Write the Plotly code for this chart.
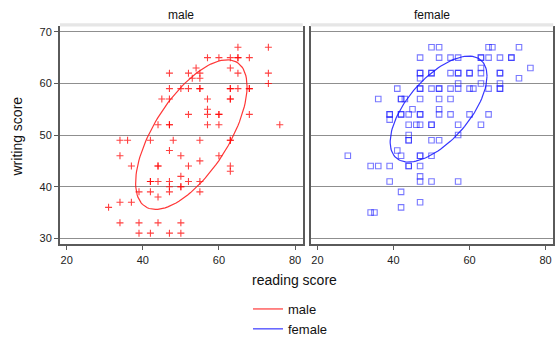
import numpy as np
import plotly.graph_objects as go

# reading / writing scores, male students
male_read = [65, 73, 57, 60, 63, 65, 65, 68, 54, 63, 47, 52, 55, 65, 73, 53, 55, 73,
             47, 50, 52, 55, 55, 63, 63, 65, 68, 68, 45, 47, 57, 63, 63, 57,
             52, 57, 60, 60, 68, 44, 47, 47, 57, 60, 76, 34, 36, 42, 48, 55, 63, 63,
             47, 34, 50, 60, 55, 37, 44, 44, 52, 63, 63, 50, 42, 42, 44, 47, 52, 55,
             47, 50, 50, 39, 42, 47, 55, 44, 34, 37, 31, 34, 39, 44, 50, 39, 42, 47, 50]
male_write = [67, 67, 65, 65, 65, 65, 65, 65, 63, 63, 62, 62, 62, 62, 62, 61, 61, 60,
              59, 59, 59, 59, 59, 59, 59, 59, 59, 59, 57, 57, 57, 57, 57, 55,
              54, 54, 54, 54, 54, 52, 52, 52, 52, 52, 52, 49, 49, 49, 49, 49, 49, 49,
              47, 46, 46, 46, 45, 44, 44, 44, 44, 44, 43, 42, 41, 41, 41, 41, 41, 41,
              40, 40, 40, 39, 39, 39, 39, 38, 37, 37, 36, 33, 33, 33, 33, 31, 31, 31, 31]

# reading / writing scores, female students
female_read = [50, 52, 65, 66, 73, 47, 52, 55, 57, 63, 63, 65, 68, 71, 71, 63, 76,
               47, 47, 50, 50, 55, 57, 57, 60, 60, 63, 68, 68, 47, 73, 57, 63, 68,
               41, 47, 47, 50, 52, 52, 55, 57, 60, 61, 65, 68, 68,
               36, 42, 42, 43, 47, 52, 55, 45, 52,
               39, 39, 42, 42, 44, 47, 47, 52, 55, 60, 65, 39,
               44, 46, 47, 50, 50, 57, 63, 44, 57, 44, 44, 50, 52, 41,
               28, 42, 47, 47, 50, 34, 36, 39, 44, 44, 47, 47, 39, 47, 50, 57,
               42, 47, 42, 34, 35]
female_write = [67, 67, 67, 67, 67, 65, 65, 65, 65, 65, 65, 65, 65, 65, 65, 63, 63,
                62, 62, 62, 62, 62, 62, 62, 62, 62, 62, 62, 62, 61, 61, 60, 60, 60,
                59, 59, 59, 59, 59, 59, 59, 59, 59, 59, 59, 59, 59,
                57, 57, 57, 57, 57, 57, 57, 55, 55,
                54, 54, 54, 54, 54, 54, 54, 54, 54, 54, 54, 53,
                52, 52, 52, 52, 52, 52, 52, 50, 50, 49, 49, 49, 49, 47,
                46, 46, 46, 46, 46, 44, 44, 44, 44, 44, 44, 42, 41, 41, 41, 41,
                39, 37, 36, 35, 35]

groups = ["male", "female"]
x_ticks = [20, 40, 60, 80]
y_ticks = [30, 40, 50, 60, 70]

# size of each group's ellipse, in standard-deviation units
ellipse_scale = {"male": 1.4, "female": 1.24}


def ellipse(xs, ys, scale, n=120):
    xs = np.asarray(xs, float)
    ys = np.asarray(ys, float)
    cov = np.cov(np.vstack([xs, ys]))
    chol = np.linalg.cholesky(cov)
    t = np.linspace(0, 2 * np.pi, n)
    circ = np.vstack([np.cos(t), np.sin(t)])
    pts = chol @ circ * scale
    return xs.mean() + pts[0], ys.mean() + pts[1]


W, H = 557, 344
fig = go.Figure()

# male panel
fig.add_trace(go.Scatter(
    x=male_read, y=male_write, mode="markers", showlegend=False,
    marker=dict(symbol="cross-thin", size=5, color="rgba(255,0,0,0.75)",
                line=dict(width=1.1, color="rgba(255,0,0,0.75)")),
    xaxis="x", yaxis="y"))
ex, ey = ellipse(male_read, male_write, ellipse_scale["male"])
fig.add_trace(go.Scatter(
    x=ex, y=ey, mode="lines", name="male",
    line=dict(color="rgba(255,20,20,0.85)", width=1.2),
    xaxis="x", yaxis="y"))

# female panel
fig.add_trace(go.Scatter(
    x=female_read, y=female_write, mode="markers", showlegend=False,
    marker=dict(symbol="square-open", size=5.5, color="rgba(30,30,255,0.6)",
                line=dict(width=1.1)),
    xaxis="x2", yaxis="y2"))
fx, fy = ellipse(female_read, female_write, ellipse_scale["female"])
fig.add_trace(go.Scatter(
    x=fx, y=fy, mode="lines", name="female",
    line=dict(color="rgba(20,20,255,0.85)", width=1.2),
    xaxis="x2", yaxis="y2"))

axis_col = "#5a5a5a"
grid_col = "#8f8f8f"
tick_font = dict(family="Liberation Sans, Arial, sans-serif", size=11, color="#222")

x_dom1 = [60 / W, 302.7 / W]
x_dom2 = [310.7 / W, 553.3 / W]
y_dom = [1 - 244.3 / H, 1 - 26 / H]
x_rng = [18.24, 82.02]
y_rng = [28.84, 71.13]

xcommon = dict(range=x_rng, tickvals=x_ticks, showgrid=False, zeroline=False,
               showline=True, linecolor=axis_col, linewidth=2, automargin=False,
               ticks="outside", ticklen=4, tickcolor=axis_col, tickwidth=1,
               tickfont=tick_font)
ycommon = dict(range=y_rng, tickvals=y_ticks, showgrid=True, gridcolor=grid_col,
               gridwidth=1.3, zeroline=False, showline=True, mirror=True,
               automargin=False, linecolor=axis_col, linewidth=2, tickfont=tick_font)

fig.update_layout(
    template="none",
    width=W, height=H,
    margin=dict(l=0, r=0, t=0, b=0, pad=0),
    paper_bgcolor="white", plot_bgcolor="white",
    font=dict(family="Liberation Sans, Arial, sans-serif", color="#111"),
    xaxis=dict(domain=x_dom1, anchor="y", **xcommon),
    xaxis2=dict(domain=x_dom2, anchor="y2", **xcommon),
    yaxis=dict(domain=y_dom, anchor="x", ticks="outside", ticklen=4,
               tickcolor=axis_col, **ycommon),
    yaxis2=dict(domain=y_dom, anchor="x2", ticks="", showticklabels=False,
                **ycommon),
    legend=dict(x=248 / W, xanchor="left", y=0, yanchor="bottom",
                font=dict(size=13, color="#111"), bgcolor="rgba(0,0,0,0)",
                borderwidth=0),
    showlegend=True,
)

# light strip along the top of each panel
for dom in (x_dom1, x_dom2):
    fig.add_shape(type="rect", xref="paper", yref="paper",
                  x0=dom[0], x1=dom[1], y0=1 - 26.5 / H, y1=1 - 23.3 / H,
                  fillcolor="#e6e6e6", line=dict(width=0), layer="above")

# panel titles
for dom, name in zip((x_dom1, x_dom2), groups):
    fig.add_annotation(x=(dom[0] + dom[1]) / 2, y=1 - 15 / H, xref="paper", yref="paper",
                       text=name, showarrow=False, font=dict(size=12, color="#111"),
                       xanchor="center", yanchor="middle")

fig.add_annotation(x=294 / W, y=1 - 280 / H, xref="paper", yref="paper",
                   text="reading score", showarrow=False,
                   font=dict(size=14, color="#111"), xanchor="center", yanchor="middle")
fig.add_annotation(x=17 / W, y=1 - 136.5 / H, xref="paper", yref="paper",
                   text="writing score", showarrow=False, textangle=-90,
                   font=dict(size=14, color="#111"), xanchor="center", yanchor="middle")

fig.write_html("out.html")
